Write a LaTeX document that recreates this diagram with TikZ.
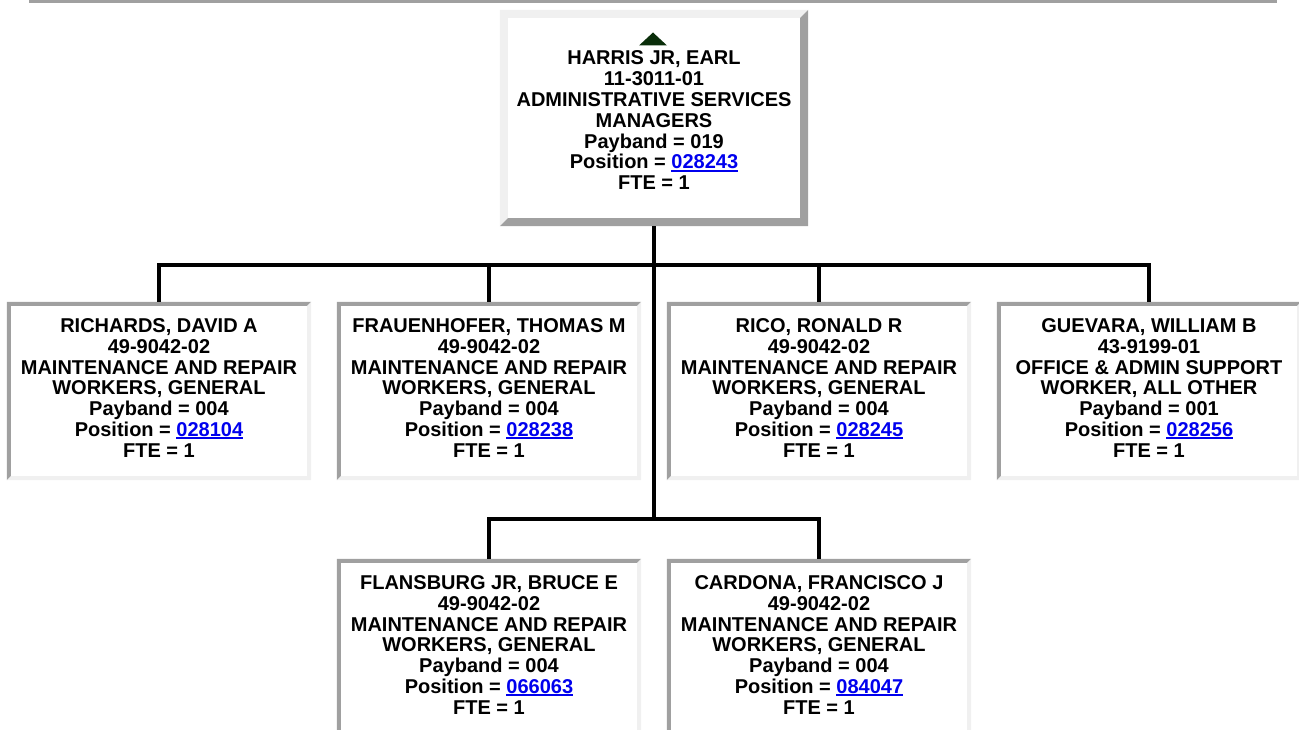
\documentclass[tikz,border=0pt]{standalone}
\usepackage{fontspec}
\setmainfont{Liberation Sans}
\usetikzlibrary{calc}
\definecolor{linkblue}{HTML}{0000EE}
\definecolor{bordark}{HTML}{A0A0A0}
\definecolor{borlight}{HTML}{F0F0F0}
\definecolor{tricol}{HTML}{0A2E0A}
\newcommand\poslink[1]{{\color{linkblue}\setbox0\hbox{#1}\rlap{\rule[-2.6pt]{\wd0}{2pt}}\box0}}
\newcommand\insetborder[1]{%
  \fill[bordark] (#1.south west) -- (#1.north west) -- (#1.north east)
    -- ([xshift=-4pt,yshift=-4pt]#1.north east) -- ([xshift=4pt,yshift=-4pt]#1.north west)
    -- ([xshift=4pt,yshift=4pt]#1.south west) -- cycle;
  \fill[borlight] (#1.south west) -- (#1.south east) -- (#1.north east)
    -- ([xshift=-4pt,yshift=-4pt]#1.north east) -- ([xshift=-4pt,yshift=4pt]#1.south east)
    -- ([xshift=4pt,yshift=4pt]#1.south west) -- cycle;}
\newcommand\outsetborder[1]{%
  \fill[borlight] (#1.south west) -- (#1.north west) -- (#1.north east)
    -- ([xshift=-8pt,yshift=-8pt]#1.north east) -- ([xshift=8pt,yshift=-8pt]#1.north west)
    -- ([xshift=8pt,yshift=8pt]#1.south west) -- cycle;
  \fill[bordark] (#1.south west) -- (#1.south east) -- (#1.north east)
    -- ([xshift=-8pt,yshift=-8pt]#1.north east) -- ([xshift=-8pt,yshift=8pt]#1.south east)
    -- ([xshift=8pt,yshift=8pt]#1.south west) -- cycle;}
\tikzset{
  emp/.style={fill=white, inner sep=0pt, align=center,
    font=\fontsize{20}{20.8}\selectfont\bfseries, text=black},
  cbox/.style={emp, minimum width=304pt, minimum height=178pt, text depth=6pt},
  tbox/.style={emp, minimum width=308pt, minimum height=216pt, text depth=4pt},
  conn/.style={line width=4pt, line join=miter, black}
}
\begin{document}
\begin{tikzpicture}[x=1pt,y=-1pt]
\useasboundingbox (0,0) rectangle (1299,730);
\clip (0,0) rectangle (1299,730);
\fill[bordark] (29,0) rectangle (1277,3);

\node[tbox] (top) at (654,118) {\\[2pt]HARRIS JR, EARL\\11-3011-01\\ADMINISTRATIVE SERVICES\\MANAGERS\\Payband = 019\\Position = \poslink{028243}\\FTE = 1};
\node[cbox] (r1) at (159,391) {RICHARDS, DAVID A\\49-9042-02\\MAINTENANCE AND REPAIR\\WORKERS, GENERAL\\Payband = 004\\Position = \poslink{028104}\\FTE = 1};
\node[cbox] (r2) at (489,391) {FRAUENHOFER, THOMAS M\\49-9042-02\\MAINTENANCE AND REPAIR\\WORKERS, GENERAL\\Payband = 004\\Position = \poslink{028238}\\FTE = 1};
\node[cbox] (r3) at (819,391) {RICO, RONALD R\\49-9042-02\\MAINTENANCE AND REPAIR\\WORKERS, GENERAL\\Payband = 004\\Position = \poslink{028245}\\FTE = 1};
\node[cbox] (r4) at (1149,391) {GUEVARA, WILLIAM B\\43-9199-01\\OFFICE \& ADMIN SUPPORT\\WORKER, ALL OTHER\\Payband = 001\\Position = \poslink{028256}\\FTE = 1};
\node[cbox] (b1) at (489,648) {FLANSBURG JR, BRUCE E\\49-9042-02\\MAINTENANCE AND REPAIR\\WORKERS, GENERAL\\Payband = 004\\Position = \poslink{066063}\\FTE = 1};
\node[cbox] (b2) at (819,648) {CARDONA, FRANCISCO J\\49-9042-02\\MAINTENANCE AND REPAIR\\WORKERS, GENERAL\\Payband = 004\\Position = \poslink{084047}\\FTE = 1};

\outsetborder{top}
\foreach \n in {r1,r2,r3,r4,b1,b2} {\insetborder{\n}}

\coordinate (tri) at (653,39);
\fill[tricol] ([xshift=-14pt,yshift=-6.5pt]tri) -- ([xshift=14pt,yshift=-6.5pt]tri) -- ([yshift=6.5pt]tri) -- cycle;

\coordinate (bus1) at (654,265);
\coordinate (bus2) at (654,519);
\draw[conn] (top.south) -- (top.south |- bus2);
\draw[conn] (r1.north) -- (r1.north |- bus1) -- (r4.north |- bus1) -- (r4.north);
\draw[conn] (r2.north) -- (r2.north |- bus1);
\draw[conn] (r3.north) -- (r3.north |- bus1);
\draw[conn] (b1.north) -- (b1.north |- bus2) -- (b2.north |- bus2) -- (b2.north);
\end{tikzpicture}
\end{document}
